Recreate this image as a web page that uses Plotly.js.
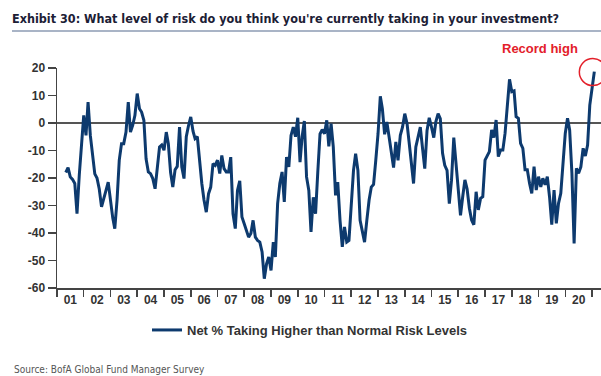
<!DOCTYPE html>
<html>
<head>
<meta charset="utf-8">
<script src="https://cdn.plot.ly/plotly-3.0.1.min.js"></script>
<style>
  html, body { margin: 0; padding: 0; background: #ffffff; }
  #chart { width: 601px; height: 376px; }
</style>
</head>
<body>
<div id="chart"></div>
<script>
// Net % of fund managers taking higher than normal risk, monthly from May 2001
const firstYear = 2001;
const firstMonth = 5; // May
const riskNet = [
  -18, -16.2, -19.6, -20.5, -22, -33, -19, -7,                              // 2001
  2.8, -4.5, 7.6, -4.5, -12.5, -18.5, -20, -24, -30.5, -27, -24.5, -21.5,    // 2002
  -28.5, -34.5, -38.4, -28, -13.5, -7.5, -7.5, -3.3, 7.6, -3.3, -0.8, 2.8,   // 2003
  10.7, 5.2, 4, 1, -13, -17.8, -18.4, -20.2, -23.9, -17.5, -8.7, -8,         // 2004
  -9.9, -3.3, -7.5, -18, -23.3, -17, -15.8, -1.5, -16, -20.2, -5, -1,        // 2005
  2.2, -3, -5.7, -5, -13.6, -22, -28, -32.4, -25.7, -23.3, -14.8, -15.4,     // 2006
  -13.5, -18.4, -11.8, -16.6, -17.8, -17.8, -12.4, -33, -38.4, -24.5, -21, -34.2, // 2007
  -36.6, -39, -41.5, -40.2, -35.4, -41.5, -42.7, -43.3, -46.9, -56.6, -51.2, -48.7, // 2008
  -53.6, -43.3, -48.7, -29.3, -22, -17.8, -28.7, -12.4, -16, -4.5, -1.5, -5, // 2009
  1.9, -14.2, -5.1, 0.7, -19.6, -24.5, -39.6, -27, -33, -18, -4, -2.4,       // 2010
  -3.9, 1, -8.5, -0.2, -8.7, -26.3, -21.5, -35.4, -45, -37.8, -43.3, -42.7,  // 2011
  -28, -17.2, -11.2, -17.2, -35.4, -40.2, -43.3, -35.4, -28, -23.3, -22.3, -13.6, // 2012
  -3.9, 9.7, 5.2, -4.1, 0.4, -5.1, -10.5, -16.2, -6.9, -13.6, -4.5, -1.5,    // 2013
  3.4, -0.2, -6.9, -14.2, -22, -8.7, -5.1, -1.5, -9.3, -16.6, -2.7, 1.9,     // 2014
  -1.5, -5.3, 0.4, 3.4, 1.6, -11, -15.4, -17.2, -29.3, -20.8, -5.3, -14.8,   // 2015
  -25, -33.6, -27, -20.7, -24, -31, -35.3, -37, -25, -31.6, -27.4, -26.8,    // 2016
  -13.5, -11.6, -10.4, -2.5, -5.3, 1.1, -12.2, -9.8, -9.8, -3.8, 6.5, 15.9,  // 2017
  11.4, 11.7, 2.3, 1.7, -7.4, -9.2, -17, -17, -22, -25.6, -15.9, -24.4,      // 2018
  -19.5, -23.2, -20.1, -22.5, -19.5, -27, -37, -24.4, -36.5, -29.2, -25.6, -13.5, // 2019
  -3.8, 1.7, -2.5, -18.3, -43.8, -16.5, -18.3, -16, -9.2, -12, -8, 6.5,      // 2020
  12.6, 18.7                                                                  // 2021
];
const yearLabels = ['01','02','03','04','05','06','07','08','09','10',
                    '11','12','13','14','15','16','17','18','19','20'];
const yTicks = [20, 10, 0, -10, -20, -30, -40, -50, -60];

// survey month for each reading
const months = riskNet.map((_, i) => {
  const idx = firstMonth - 1 + i;
  const y = firstYear + Math.floor(idx / 12);
  const m = (idx % 12) + 1;
  return y + '-' + String(m).padStart(2, '0') + '-01';
});
// year labels sit in the middle of each year, ticks on the year boundaries
const labelPos = yearLabels.map(l => '20' + l + '-07-02');

const xRange = ['2001-01-01', '2021-05-03'];
const yRange = [-60, 20];

const lastDate = months[months.length - 1];
const lastValue = riskNet[riskNet.length - 1];
// latest reading expressed as a fraction of the plot area
const t0 = Date.parse(xRange[0]), t1 = Date.parse(xRange[1]);
const lastPaperX = (Date.parse(lastDate) - t0) / (t1 - t0);
const lastPaperY = (lastValue - yRange[0]) / (yRange[1] - yRange[0]);

const W = 601, H = 376;
const M = { l: 57, r: 0, t: 68, b: 88 };
const plotW = W - M.l - M.r, plotH = H - M.t - M.b;
const px = x => (x - M.l) / plotW;          // page px -> paper x
const py = y => (H - M.b - y) / plotH;      // page px -> paper y

const narrow = 'Liberation Sans Narrow, DejaVu Sans Condensed, Arial Narrow, sans-serif';
const sans = 'Liberation Sans, Arial, sans-serif';

const trace = {
  x: months,
  y: riskNet,
  type: 'scatter',
  mode: 'lines',
  name: '<b>Net % Taking Higher than Normal Risk Levels</b>',
  line: { color: '#0d3a6e', width: 3 }
};

const layout = {
  width: W, height: H,
  margin: M,
  paper_bgcolor: '#ffffff',
  plot_bgcolor: '#ffffff',
  title: {
    text: '<b>Exhibit 30: What level of risk do you think you\'re currently taking in your investment?</b>',
    xref: 'container', yref: 'container',
    x: 12 / W, xanchor: 'left',
    y: 1 - 19 / H, yanchor: 'middle',
    font: { family: narrow, size: 12.5, color: '#1c2035' }
  },
  xaxis: {
    type: 'date',
    range: xRange,
    tickmode: 'array',
    tickvals: labelPos,
    ticktext: yearLabels,
    ticks: '',
    tickfont: { family: sans, size: 12, color: '#333333', weight: 'bold' },
    showgrid: false,
    zeroline: false,
    showline: true,
    linecolor: '#444444',
    linewidth: 1.5,
    minor: {
      ticks: 'outside', dtick: 'M12', tick0: '2001-01-01',
      ticklen: 7, tickwidth: 1.5, tickcolor: '#444444', showgrid: false
    },
    fixedrange: true
  },
  yaxis: {
    range: yRange,
    tickmode: 'array',
    tickvals: yTicks,
    ticktext: yTicks.map(String),
    ticks: 'outside',
    ticklen: 8,
    tickwidth: 1.5,
    tickcolor: '#444444',
    tickfont: { family: sans, size: 12, color: '#333333', weight: 'bold' },
    showgrid: false,
    zeroline: true,
    zerolinecolor: '#555555',
    zerolinewidth: 1.5,
    showline: true,
    linecolor: '#444444',
    linewidth: 1.5,
    fixedrange: true
  },
  showlegend: true,
  legend: {
    orientation: 'h',
    x: px(147), xanchor: 'left',
    y: py(330), yanchor: 'middle',
    font: { family: sans, size: 13, color: '#333333' },
    bgcolor: 'rgba(0,0,0,0)'
  },
  shapes: [
    // rule under the exhibit title
    {
      type: 'line', xref: 'paper', yref: 'paper',
      x0: px(12), x1: px(W), y0: py(31), y1: py(31),
      line: { color: '#8c9bb3', width: 1.5 }
    },
    // ring around the latest reading
    {
      type: 'circle', xref: 'paper', yref: 'paper',
      xsizemode: 'pixel', ysizemode: 'pixel',
      xanchor: lastPaperX, yanchor: lastPaperY,
      x0: -15, x1: 12, y0: -14, y1: 13,
      line: { color: '#e3202a', width: 1.5 }
    }
  ],
  annotations: [
    {
      text: '<b>Record high</b>',
      xref: 'paper', yref: 'paper',
      x: px(540), y: py(49), xanchor: 'center', yanchor: 'middle',
      showarrow: false,
      font: { family: sans, size: 13, color: '#e3202a' }
    },
    {
      text: 'Source: BofA Global Fund Manager Survey',
      xref: 'paper', yref: 'paper',
      x: px(12), y: py(369), xanchor: 'left', yanchor: 'middle',
      showarrow: false,
      font: { family: narrow, size: 10, color: '#555555' }
    }
  ]
};

Plotly.newPlot('chart', [trace], layout, { displayModeBar: false, staticPlot: true });
</script>
</body>
</html>
